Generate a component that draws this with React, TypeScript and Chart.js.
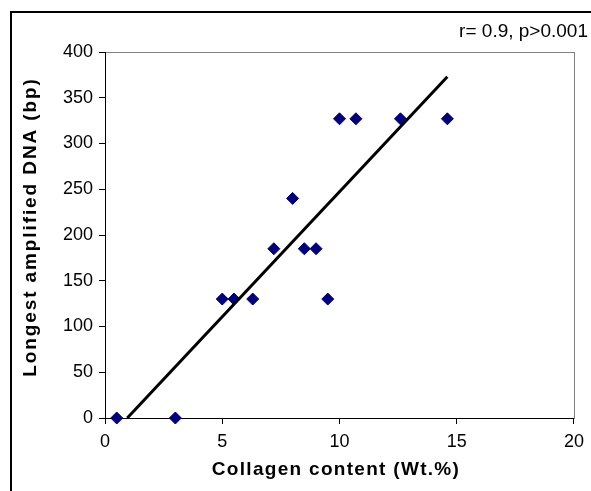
import React, { useEffect, useRef } from "react";
import { Chart, registerables } from "chart.js";

Chart.register(...registerables);

// ---- data ----
const collagenContent = [0.5, 3.0, 5.0, 5.5, 6.3, 7.2, 8.0, 8.5, 9.0, 9.5, 10.0, 10.7, 12.6, 14.6];
const longestDNA = [0, 0, 130, 130, 130, 185, 240, 185, 185, 130, 327, 327, 327, 327];
const trendX = [0.95, 14.6];
const trendY = [0, 373];
const xTickValues = [0, 5, 10, 15, 20];
const yTickValues = [0, 50, 100, 150, 200, 250, 300, 350, 400];
const xTitle = "Collagen content (Wt.%)";
const yTitle = "Longest amplified DNA (bp)";
const annotationText = "r= 0.9, p>0.001";

const FONT = "'Liberation Sans', Arial, sans-serif";

const decorPlugin = {
  id: "decor",
  beforeDraw(chart: any) {
    const { ctx, chartArea } = chart;
    ctx.save();
    ctx.fillStyle = "#ffffff";
    ctx.fillRect(0, 0, chart.width, chart.height);
    // outer frame (left + top)
    ctx.strokeStyle = "#000000";
    ctx.lineWidth = 2;
    ctx.beginPath();
    ctx.moveTo(11, chart.height + 2);
    ctx.lineTo(11, 12);
    ctx.lineTo(chart.width + 2, 12);
    ctx.stroke();
    // grey plot border
    ctx.strokeStyle = "#808080";
    ctx.lineWidth = 1;
    ctx.strokeRect(
      Math.round(chartArea.left) + 0.5,
      Math.round(chartArea.top) + 0.5,
      Math.round(chartArea.right - chartArea.left),
      Math.round(chartArea.bottom - chartArea.top)
    );
    ctx.restore();
  },
  afterDraw(chart: any) {
    const { ctx, chartArea } = chart;
    ctx.save();
    ctx.fillStyle = "#000000";
    // annotation
    ctx.font = `19px ${FONT}`;
    ctx.textAlign = "right";
    ctx.textBaseline = "alphabetic";
    ctx.fillText(annotationText, 588, 37);
    // x title
    ctx.font = `bold 19px ${FONT}`;
    (ctx as any).letterSpacing = "1.3px";
    ctx.textAlign = "center";
    ctx.textBaseline = "middle";
    ctx.fillText(xTitle, 336, 470);
    // y title
    ctx.translate(31, (chartArea.top + chartArea.bottom) / 2 - 8);
    ctx.rotate(-Math.PI / 2);
    (ctx as any).letterSpacing = "1.9px";
    ctx.fillText(yTitle, 0, 0);
    ctx.restore();
  },
};

export default function App() {
  const canvasRef = useRef<HTMLCanvasElement | null>(null);

  useEffect(() => {
    if (!canvasRef.current) return;
    const chart = new Chart(canvasRef.current, {
      type: "scatter",
      data: {
        datasets: [
          {
            label: "trend",
            data: trendX.map((x, i) => ({ x, y: trendY[i] })),
            showLine: true,
            borderColor: "#000000",
            borderWidth: 3,
            pointRadius: 0,
            fill: false,
            clip: false,
          } as any,
          {
            label: "samples",
            data: collagenContent.map((x, i) => ({ x, y: longestDNA[i] })),
            pointStyle: "rectRot",
            pointRadius: 6,
            pointBackgroundColor: "#000080",
            pointBorderColor: "#000080",
            pointBorderWidth: 1,
            clip: false,
          } as any,
        ],
      },
      options: {
        responsive: false,
        animation: false,
        devicePixelRatio: 1,
        layout: { padding: { left: 0, top: 52, right: 13, bottom: 0 } },
        plugins: {
          legend: { display: false },
          tooltip: { enabled: false },
        },
        scales: {
          x: {
            type: "linear",
            min: 0,
            max: 20,
            afterBuildTicks: (s: any) => {
              s.ticks = xTickValues.map((v) => ({ value: v }));
            },
            afterFit: (s: any) => {
              s.height = 73;
            },
            ticks: {
              color: "#000000",
              font: { family: FONT, size: 18 },
              padding: 7,
              maxRotation: 0,
            },
            grid: {
              drawOnChartArea: false,
              drawTicks: true,
              tickLength: 6,
              color: "#000000",
            },
            border: { color: "#000000", width: 1 },
          },
          y: {
            type: "linear",
            min: 0,
            max: 400,
            afterBuildTicks: (s: any) => {
              s.ticks = yTickValues.map((v) => ({ value: v }));
            },
            afterFit: (s: any) => {
              s.width = 105;
            },
            ticks: {
              color: "#000000",
              font: { family: FONT, size: 18 },
              padding: 6,
            },
            grid: {
              drawOnChartArea: false,
              drawTicks: true,
              tickLength: 6,
              color: "#000000",
            },
            border: { color: "#000000", width: 1 },
          },
        },
      },
      plugins: [decorPlugin],
    });
    return () => chart.destroy();
  }, []);

  return (
    <div style={{ position: "fixed", left: 0, top: 0, width: 591, height: 491, background: "#fff" }}>
      <canvas ref={canvasRef} width={591} height={491} style={{ display: "block" }} />
    </div>
  );
}
